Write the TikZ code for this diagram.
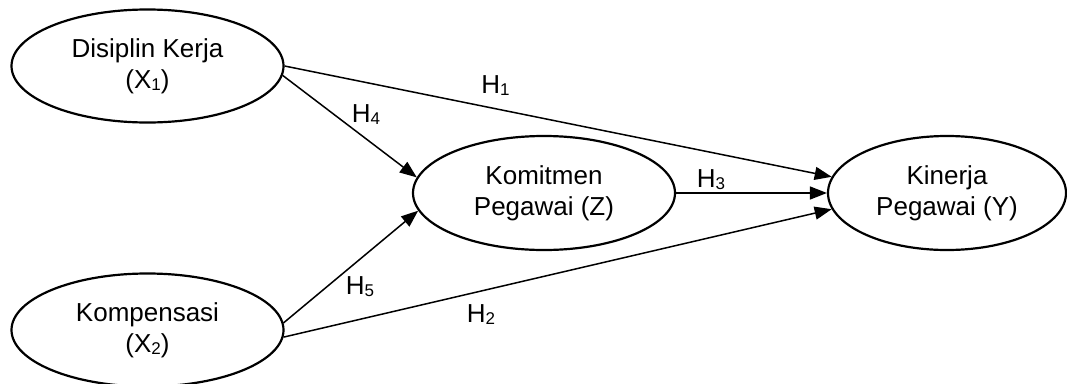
\documentclass[tikz,border=0pt]{standalone}
\usepackage{fontspec}
\setmainfont{Liberation Sans}
\usetikzlibrary{shapes.geometric,arrows.meta}
\newcommand\mysb[1]{\raisebox{-2.5pt}{\fontsize{17}{17}\selectfont #1}}
\begin{document}
\begin{tikzpicture}[x=1pt,y=-1pt,
  var/.style={ellipse,draw,line width=2.2pt,inner sep=0pt,align=center,
    font=\fontsize{26}{31}\selectfont},
  conn/.style={line width=1.5pt,-{Triangle[length=17pt,width=13pt]}},
  hlab/.style={anchor=base,inner sep=0pt,font=\fontsize{26}{31}\selectfont}]
\useasboundingbox (0,0) rectangle (1067,383);
\node[var,minimum width=272pt,minimum height=113pt] (x1) at (147.5,66) {Disiplin Kerja\\(X\mysb{1})};
\node[var,minimum width=272pt,minimum height=113pt] (x2) at (147.5,330) {Kompensasi\\(X\mysb{2})};
\node[var,minimum width=262pt,minimum height=114pt] (z) at (544,193) {Komitmen\\Pegawai (Z)};
\node[var,minimum width=238pt,minimum height=114pt] (y) at (947,193) {Kinerja\\Pegawai (Y)};
\draw[conn] (x1.east) -- (y.172);
\draw[conn] (x1.-4) -- (z.173);
\draw[conn] (x2.3) -- (z.188);
\draw[conn] (x2.-3.4) -- (y.188);
\draw[conn] (z.east) -- (y.west);
\node[hlab] (h1) at (495.5,93) {H\mysb{1}};
\node[hlab] (h2) at (481,322) {H\mysb{2}};
\node[hlab] (h3) at (711,187) {H\mysb{3}};
\node[hlab] (h4) at (366,122) {H\mysb{4}};
\node[hlab] (h5) at (360,294) {H\mysb{5}};
\end{tikzpicture}
\end{document}
